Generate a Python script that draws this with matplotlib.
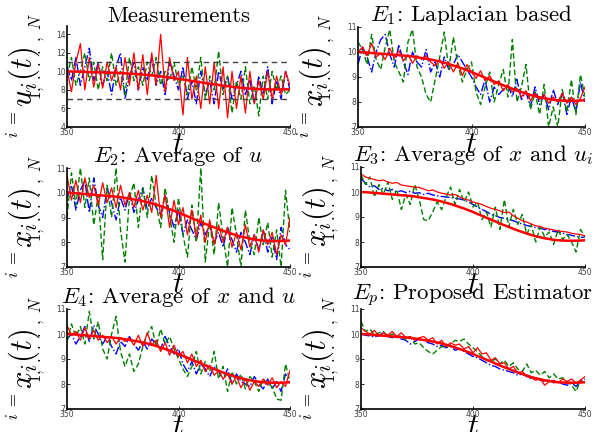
import numpy as np
import matplotlib
matplotlib.use("Agg")
import matplotlib.pyplot as plt

plt.rcParams['mathtext.fontset'] = 'cm'
plt.rcParams['font.family'] = ['cmr10', 'DejaVu Serif']
plt.rcParams['axes.unicode_minus'] = False

# time grid (step 2)
t = list(range(350, 451, 2))

truth = [10.00, 9.99, 9.98, 9.96, 9.95, 9.93, 9.92, 9.90, 9.89, 9.87, 9.86, 9.84, 9.82, 9.79, 9.76,
         9.73, 9.70, 9.66, 9.62, 9.57, 9.52, 9.46, 9.40, 9.34, 9.27, 9.20, 9.12, 9.05, 8.97, 8.90,
         8.82, 8.74, 8.67, 8.60, 8.53, 8.46, 8.40, 8.34, 8.28, 8.23, 8.19, 8.15, 8.12, 8.09, 8.07,
         8.06, 8.05, 8.05, 8.05, 8.06, 8.07]

meas_red = [10.2, 7.8, 11.0, 13.0, 8.0, 11.5, 8.3, 10.8, 8.2, 11.0, 9.0, 10.5, 8.0, 11.5, 8.5, 12.0,
            8.0, 11.8, 7.5, 12.0, 8.5, 14.0, 7.8, 11.5, 9.0, 10.0, 5.3, 11.5, 7.0, 9.5, 6.0, 10.5,
            6.5, 11.0, 6.0, 10.5, 5.0, 10.0, 6.0, 9.5, 5.5, 10.0, 6.5, 9.0, 7.0, 10.0, 7.0, 9.5,
            7.5, 10.0, 8.5]
meas_blue = [10.5, 9.0, 11.5, 8.5, 10.5, 12.5, 9.0, 11.0, 8.5, 10.0, 7.5, 10.5, 12.0, 7.0, 9.5, 11.0,
             8.0, 10.5, 9.0, 11.5, 8.5, 10.0, 7.5, 11.0, 9.5, 8.0, 10.5, 7.0, 9.0, 6.5, 10.0, 7.5,
             9.0, 6.5, 10.0, 8.0, 9.5, 7.0, 8.5, 10.0, 7.5, 9.0, 6.5, 9.5, 7.5, 10.5, 6.5, 9.0,
             7.0, 10.0, 8.0]
meas_green = [9.5, 11.5, 8.5, 10.0, 12.0, 9.0, 11.0, 8.0, 10.5, 9.0, 12.0, 8.5, 10.0, 7.5, 11.5, 9.0,
              10.5, 8.5, 11.0, 9.5, 11.5, 8.5, 10.0, 9.0, 11.0, 8.5, 9.5, 7.5, 10.5, 8.0, 11.5, 7.0,
              9.5, 8.0, 12.2, 7.5, 9.5, 5.5, 9.0, 7.0, 10.5, 6.5, 8.5, 5.2, 9.5, 7.0, 10.0, 8.0,
              9.5, 7.5, 8.0]
meas_bounds = [7, 11]

e1_red = [10.0, 10.2, 9.85, 10.35, 9.8, 9.95, 9.7, 10.15, 9.75, 10.05, 9.65, 9.9, 9.55, 9.85, 9.7,
          9.85, 9.6, 9.45, 9.7, 9.35, 9.6, 9.2, 9.55, 9.05, 9.5, 9.2, 8.95, 9.25, 8.85, 9.05, 8.7,
          8.85, 8.45, 8.7, 8.4, 8.55, 8.2, 8.45, 8.05, 8.35, 8.1, 8.3, 7.95, 8.2, 8.0, 8.35, 7.95,
          8.2, 7.9, 8.15, 8.6]
e1_blue = [9.5, 10.2, 9.8, 9.2, 10.0, 10.5, 10.7, 9.9, 9.4, 10.3, 9.6, 9.1, 10.0, 9.6, 9.4, 10.1,
           9.2, 9.6, 9.0, 9.8, 9.3, 9.5, 9.9, 9.6, 9.3, 9.0, 8.6, 8.3, 8.9, 8.0, 8.6, 8.3, 8.5,
           8.7, 8.2, 8.9, 8.1, 8.4, 7.8, 8.6, 7.9, 8.3, 7.7, 8.5, 7.9, 8.4, 7.5, 8.2, 7.6, 8.8, 8.0]
e1_green = [10.4, 10.1, 9.5, 10.7, 9.7, 9.3, 10.2, 10.9, 9.6, 9.2, 8.8, 10.4, 10.9, 9.4, 9.0, 8.3,
            8.0, 8.9, 9.8, 10.8, 9.3, 10.6, 9.5, 8.8, 9.3, 9.6, 8.4, 7.9, 8.6, 9.2, 8.0, 8.7, 9.3,
            8.2, 10.5, 8.0, 8.6, 9.5, 7.7, 8.4, 7.5, 8.7, 7.0, 7.8, 7.0, 8.5, 7.6, 8.9, 7.5, 9.1, 8.2]

e2_red = [10.7, 9.7, 10.5, 9.6, 10.6, 9.8, 10.3, 9.5, 10.4, 9.6, 10.2, 9.4, 10.3, 9.5, 10.0, 9.4,
          10.1, 9.3, 9.9, 9.2, 10.7, 9.0, 9.9, 8.6, 9.7, 8.7, 9.4, 8.3, 9.3, 8.2, 9.1, 8.0, 8.9,
          7.9, 8.7, 8.0, 8.6, 7.8, 8.4, 7.7, 8.7, 7.8, 8.3, 7.6, 8.5, 7.9, 8.4, 7.5, 8.3, 7.9, 9.0]
e2_blue = [9.8, 10.3, 9.3, 10.1, 10.5, 9.2, 10.6, 9.5, 9.0, 10.2, 9.6, 8.9, 9.8, 9.3, 10.0, 9.2,
           9.7, 10.2, 9.3, 9.8, 9.4, 9.1, 9.9, 9.2, 8.6, 9.3, 8.3, 8.9, 8.5, 8.1, 8.8, 8.3, 8.7,
           8.0, 8.4, 7.8, 8.6, 8.1, 7.6, 8.4, 8.0, 7.5, 8.3, 7.7, 8.5, 7.6, 8.2, 7.3, 8.6, 7.9, 7.7]
e2_green = [9.0, 10.8, 9.5, 11.0, 9.4, 10.6, 8.7, 9.9, 7.3, 10.3, 9.0, 11.0, 8.5, 7.2, 9.8, 10.4,
            8.6, 10.2, 9.0, 10.7, 9.5, 8.6, 10.2, 9.1, 8.0, 9.8, 8.3, 7.4, 9.5, 8.0, 11.0, 7.2,
            8.8, 7.5, 9.6, 8.2, 7.0, 9.4, 8.3, 7.0, 9.3, 8.0, 7.5, 9.0, 7.9, 8.8, 7.4, 8.5, 7.0,
            10.1, 8.4]

e3_red = [10.72, 10.6, 10.55, 10.5, 10.45, 10.48, 10.4, 10.35, 10.38, 10.28, 10.25, 10.22, 10.2,
          10.18, 10.12, 10.05, 10.08, 10.0, 9.95, 9.92, 9.88, 9.9, 9.8, 9.72, 9.68, 9.6, 9.55, 9.5,
          9.42, 9.35, 9.3, 9.25, 9.18, 9.2, 9.05, 8.95, 8.85, 8.8, 8.72, 8.65, 8.62, 8.55, 8.52,
          8.48, 8.45, 8.42, 8.4, 8.35, 8.32, 8.3, 8.25]
e3_blue = [10.55, 10.35, 10.2, 10.25, 10.1, 10.15, 10.05, 10.1, 10.0, 10.05, 9.98, 10.02, 9.95,
           9.97, 9.9, 9.95, 9.88, 9.85, 9.82, 9.8, 9.78, 9.75, 9.72, 9.68, 9.6, 9.5, 9.4, 9.3,
           9.22, 9.1, 9.05, 8.98, 8.95, 8.9, 8.85, 8.78, 8.72, 8.66, 8.62, 8.58, 8.55, 8.5, 8.48,
           8.42, 8.4, 8.35, 8.3, 8.27, 8.22, 8.18, 8.2]
e3_green = [10.7, 10.3, 10.6, 9.8, 10.3, 9.9, 10.4, 9.7, 10.1, 9.3, 9.9, 9.5, 10.3, 9.7, 8.9, 8.85,
            9.2, 9.6, 9.3, 9.8, 10.2, 9.5, 10.1, 9.6, 10.0, 9.4, 9.6, 8.9, 9.2, 8.6, 9.4, 8.5, 9.7,
            8.6, 9.3, 8.7, 9.1, 8.3, 8.7, 8.0, 8.6, 8.2, 8.4, 7.9, 8.5, 8.1, 8.3, 8.0, 7.6, 8.5, 8.2]

e4_red = [10.35, 9.95, 10.1, 9.75, 10.25, 9.8, 10.15, 9.75, 9.95, 9.65, 9.9, 9.6, 9.85, 9.7, 9.85,
          9.55, 9.95, 9.5, 10.05, 9.55, 9.75, 9.3, 9.65, 9.15, 9.55, 9.1, 9.3, 8.85, 9.2, 8.7,
          8.95, 8.5, 8.75, 8.35, 8.55, 8.2, 8.4, 8.0, 8.3, 7.85, 8.2, 7.75, 8.1, 7.9, 8.2, 7.95,
          8.25, 7.85, 8.1, 7.9, 8.55]
e4_blue = [9.8, 10.0, 9.6, 9.9, 10.3, 9.7, 10.35, 10.0, 9.6, 9.9, 9.5, 9.2, 9.7, 9.5, 9.9, 9.6,
           9.35, 9.7, 9.4, 9.8, 9.6, 9.4, 9.9, 9.5, 9.2, 9.4, 8.8, 8.5, 8.9, 8.4, 8.8, 8.6, 8.3,
           8.7, 8.5, 8.2, 8.6, 8.0, 8.4, 8.1, 8.0, 7.9, 8.3, 8.0, 7.8, 8.2, 7.8, 8.1, 7.7, 8.4, 8.05]
e4_green = [9.7, 10.4, 9.9, 10.3, 9.6, 10.9, 9.8, 10.5, 9.4, 9.0, 10.0, 10.7, 9.3, 8.7, 9.2, 8.5,
            8.8, 9.5, 10.0, 10.3, 9.5, 10.2, 9.6, 9.9, 9.4, 9.0, 8.6, 8.3, 8.7, 9.3, 8.4, 8.9, 8.5,
            9.3, 8.2, 8.7, 7.7, 8.5, 8.0, 8.4, 7.8, 8.3, 8.1, 7.7, 8.2, 8.0, 7.9, 7.4, 7.35, 8.8, 8.1]

ep_red = [10.25, 10.1, 10.0, 10.15, 9.9, 10.05, 9.95, 10.1, 9.9, 10.05, 9.85, 9.9, 9.75, 9.85, 9.9,
          9.75, 9.85, 9.6, 9.75, 9.5, 9.65, 9.55, 9.6, 9.4, 9.5, 9.25, 9.45, 9.2, 9.25, 8.95, 9.05,
          8.8, 8.85, 8.6, 8.7, 8.45, 8.5, 8.3, 8.25, 8.15, 8.2, 7.95, 8.1, 8.15, 8.05, 8.2, 8.1,
          8.2, 8.05, 8.15, 8.3]
ep_blue = [10.0, 9.95, 9.92, 9.88, 9.95, 10.05, 9.9, 9.85, 9.95, 9.8, 9.75, 9.6, 9.7, 9.8, 9.75,
           9.65, 9.6, 9.5, 9.55, 9.45, 9.5, 9.35, 9.4, 9.3, 9.2, 9.1, 9.05, 8.95, 8.85, 8.75, 8.7,
           8.6, 8.55, 8.5, 8.45, 8.35, 8.4, 8.3, 8.2, 8.25, 8.15, 8.1, 8.15, 8.05, 8.1, 8.0, 7.95,
           8.05, 7.9, 8.1, 8.2]
ep_green = [10.5, 10.1, 10.2, 9.95, 10.05, 10.1, 9.9, 10.0, 9.85, 9.95, 9.75, 9.9, 9.6, 9.65, 9.45,
            9.3, 9.2, 9.35, 9.5, 9.45, 9.6, 9.75, 9.7, 9.8, 9.6, 9.45, 9.3, 9.1, 8.95, 8.9, 9.0,
            8.8, 8.95, 8.7, 8.85, 8.6, 8.5, 8.8, 8.45, 8.55, 8.35, 8.5, 8.25, 8.4, 8.2, 8.25, 8.1,
            7.95, 7.7, 8.15, 8.0]

titles = ['Measurements', r'$E_1$: Laplacian based', r'$E_2$: Average of $u$',
          r'$E_3$: Average of $x$ and $u_i$', r'$E_4$: Average of $x$ and $u$',
          r'$E_p$: Proposed Estimator']
ylabels = [r'$u_i(t)$', r'$x_i(t)$', r'$x_i(t)$', r'$x_i(t)$', r'$x_i(t)$', r'$x_i(t)$']
series = [(meas_blue, meas_green, meas_red), (e1_blue, e1_green, e1_red),
          (e2_blue, e2_green, e2_red), (e3_blue, e3_green, e3_red),
          (e4_blue, e4_green, e4_red), (ep_blue, ep_green, ep_red)]

W, H = 601, 432
# (left, right, top, bottom) in pixels
boxes = [(67, 290, 26, 127), (358, 585, 27, 127),
         (67, 290, 168, 267), (361, 585, 167, 267),
         (67, 290, 309, 409), (361, 585, 309, 409)]

fig = plt.figure(figsize=(W / 100, H / 100), dpi=100)
green = (0, 0.5, 0)
for k, (l, r, tp, b) in enumerate(boxes):
    ax = fig.add_axes([l / W, 1 - b / H, (r - l) / W, (b - tp) / H])
    blue_s, green_s, red_s = series[k]
    ax.plot(t, blue_s, color='b', ls='-.', lw=1.0)
    ax.plot(t, green_s, color=green, ls='--', lw=1.0, dashes=(4, 2))
    ax.plot(t, red_s, color='r', ls='-', lw=0.9)
    ax.plot(t, truth, color='r', ls='-', lw=1.8)
    ax.set_xlim(350, 450)
    ax.set_xticks([350, 400, 450])
    if k == 0:
        for yb in meas_bounds:
            ax.axhline(yb, color='0.25', ls='--', lw=1.0, dashes=(4, 3))
        ax.set_ylim(4, 14.9)
        ax.set_yticks([4, 6, 8, 10, 12, 14])
    else:
        ax.set_ylim(7, 11)
        ax.set_yticks([7, 8, 9, 10, 11])
    for s in ['top', 'right']:
        ax.spines[s].set_visible(False)
    for s in ['left', 'bottom']:
        ax.spines[s].set_linewidth(1.2)
    ax.tick_params(direction='in', length=2, width=0.6, labelsize=5.5, pad=1,
                   labelcolor='0.25')
    for lab in ax.get_xticklabels() + ax.get_yticklabels():
        lab.set_fontfamily('DejaVu Sans')
    ax.set_title(titles[k], fontsize=16.5, pad=3)
    xc = (l + r) / 2 / W
    yc = 1 - (tp + b) / 2 / H
    # x label
    fig.text(xc, 1 - (b + 5) / H, r'$t$', fontsize=22, ha='center', va='top')
    # y label and its overlapping index range, as in the reference
    fig.text((l - 43) / W, yc, ylabels[k], fontsize=22, rotation=90,
             ha='center', va='center')
    fig.text((l - 31) / W, 1 - (tp + 30) / H, r'$1,\ .\ .\ .\ ,\ N$', rotation=90,
             fontsize=12, ha='center', va='center')
    fig.text((l - 54) / W, 1 - (b - 3) / H, r'$i\ =$', rotation=90,
             fontsize=12, ha='center', va='center')

fig.savefig('out.png', dpi=100)
